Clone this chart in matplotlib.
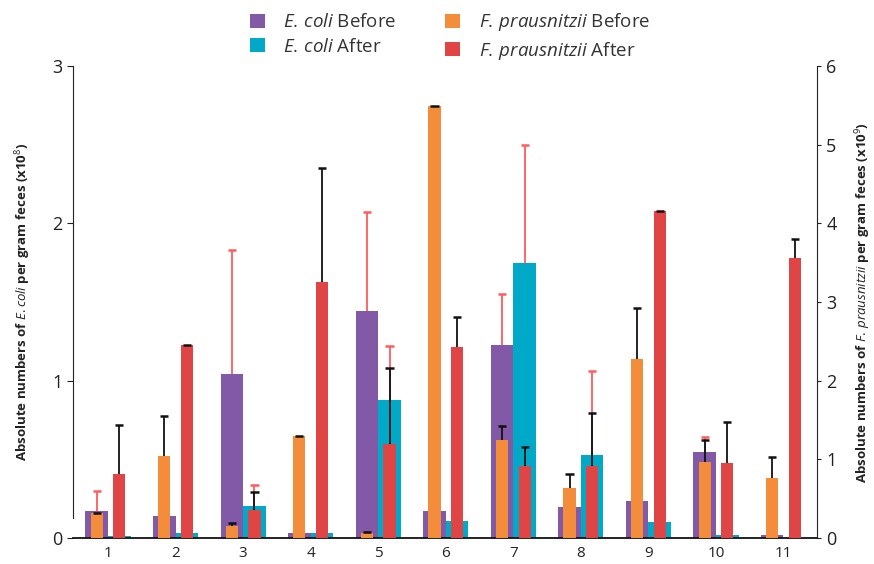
import numpy as np
import matplotlib
matplotlib.use('Agg')
import matplotlib.pyplot as plt
from matplotlib.patches import Patch

plt.rcParams['font.family'] = ['Open Sans', 'DejaVu Sans']
plt.rcParams['mathtext.fontset'] = 'custom'
plt.rcParams['mathtext.rm'] = 'Open Sans'
plt.rcParams['mathtext.it'] = 'Open Sans:italic'

# 11 subjects
subjects = ['1', '2', '3', '4', '5', '6', '7', '8', '9', '10', '11']

# E. coli (left axis, x10^8)
ecoli_before = [0.17, 0.14, 1.04, 0.03, 1.44, 0.17, 1.23, 0.20, 0.235, 0.55, 0.02]
ecoli_after = [0.01, 0.03, 0.205, 0.03, 0.88, 0.11, 1.75, 0.53, 0.10, 0.02, 0.0]
ecoli_before_err = [0.13, np.nan, 0.79, np.nan, 0.63, np.nan, 0.32, np.nan, np.nan, 0.09, np.nan]
ecoli_after_err = [np.nan, np.nan, 0.135, np.nan, 0.34, np.nan, 0.75, 0.53, np.nan, np.nan, np.nan]

# F. prausnitzii (right axis, x10^9)
fp_before = [0.32, 1.04, 0.15, 1.30, 0.06, 5.49, 1.25, 0.64, 2.27, 0.97, 0.76]
fp_after = [0.81, 2.45, 0.36, 3.25, 1.20, 2.43, 0.92, 0.91, 4.16, 0.96, 3.56]
fp_before_err = [0.0, 0.51, 0.04, 0.0, 0.02, 0.0, 0.18, 0.17, 0.66, 0.28, 0.27]
fp_after_err = [0.63, 0.0, 0.22, 1.45, 0.96, 0.38, 0.24, 0.68, 0.0, 0.52, 0.24]

c_purple = '#8159A6'
c_teal = '#00A9C8'
c_orange = '#F48D3B'
c_red = '#E04545'
c_errred = '#FF5C5C'

x = np.arange(1, len(subjects) + 1)
wide = 0.335
narrow = 0.18
off = wide / 2
cap = 0.06

fig = plt.figure(figsize=(8.74, 5.64), dpi=100)
ax = fig.add_axes([0.0835, 0.046, 0.8515, 0.837])
ax2 = ax.twinx()
ax.set_zorder(1)
ax2.set_zorder(2)
ax.patch.set_visible(False)
ax2.patch.set_visible(False)


def draw_err(axis, xs, ys, errs, color):
    # upper-only error bars with a cap on top
    errs = np.asarray(errs, dtype=float)
    ys = np.asarray(ys, dtype=float)
    m = np.isfinite(errs)
    top = ys[m] + errs[m]
    axis.vlines(xs[m], ys[m], top, colors=color, linewidth=1.3, zorder=3)
    axis.hlines(top, xs[m] - cap, xs[m] + cap, colors=color, linewidth=1.8, zorder=3)


# E. coli bars (wide) on left axis
ax.bar(x - off, ecoli_before, width=wide, color=c_purple, zorder=2)
ax.bar(x + off, ecoli_after, width=wide, color=c_teal, zorder=2)
draw_err(ax, x - off, ecoli_before, ecoli_before_err, c_errred)
draw_err(ax, x + off, ecoli_after, ecoli_after_err, c_errred)

# F. prausnitzii bars (narrow) on right axis
ax2.bar(x - off, fp_before, width=narrow, color=c_orange, zorder=2)
ax2.bar(x + off, fp_after, width=narrow, color=c_red, zorder=2)
draw_err(ax2, x - off, fp_before, fp_before_err, '#111111')
draw_err(ax2, x + off, fp_after, fp_after_err, '#111111')

ax.set_xlim(0.48, 11.5)
ax.set_ylim(0, 3)
ax2.set_ylim(0, 6)
ax.set_yticks([0, 1, 2, 3])
ax2.set_yticks([0, 1, 2, 3, 4, 5, 6])
ax.set_xticks(x)
ax.set_xticklabels(subjects)

for a in (ax, ax2):
    a.spines['top'].set_visible(False)
ax2.spines['left'].set_visible(False)
ax2.spines['bottom'].set_visible(False)
ax.spines['right'].set_visible(False)
ax.spines['left'].set_bounds(0.13, 3)
ax.spines['left'].set_color('#222222')
ax2.spines['right'].set_color('#222222')
ax.spines['bottom'].set_color('#111111')
ax.spines['bottom'].set_linewidth(1.3)

ax.tick_params(axis='x', length=0, labelsize=11, pad=6, colors='#222222')
ax.tick_params(axis='y', length=4, labelsize=13, colors='#222222')
ax2.tick_params(axis='y', length=3, labelsize=13, colors='#222222')

ax.set_ylabel('Absolute numbers of $\\it{E.coli}$ per gram feces (x10$^8$)',
              fontsize=9.5, fontweight='bold', color='#222222', labelpad=14)
ax2.set_ylabel('Absolute numbers of $\\it{F.\\,prausnitzii}$ per gram feces (x10$^9$)',
               fontsize=9.5, fontweight='bold', color='#222222', labelpad=12)

handles = [
    Patch(facecolor=c_purple, label='$\\it{E.\\,coli}$ Before'),
    Patch(facecolor=c_teal, label='$\\it{E.\\,coli}$ After'),
    Patch(facecolor=c_orange, label='$\\it{F.\\,prausnitzii}$ Before'),
    Patch(facecolor=c_red, label='$\\it{F.\\,prausnitzii}$ After'),
]
leg = fig.legend(handles=handles, loc='upper center', bbox_to_anchor=(0.515, 1.01),
                 ncol=2, frameon=False, fontsize=13.5, handlelength=0.8, handleheight=0.8,
                 columnspacing=2.6, labelspacing=0.35, handletextpad=1.0)
for t in leg.get_texts():
    t.set_color('#333333')

fig.savefig('out.png', dpi=100)
